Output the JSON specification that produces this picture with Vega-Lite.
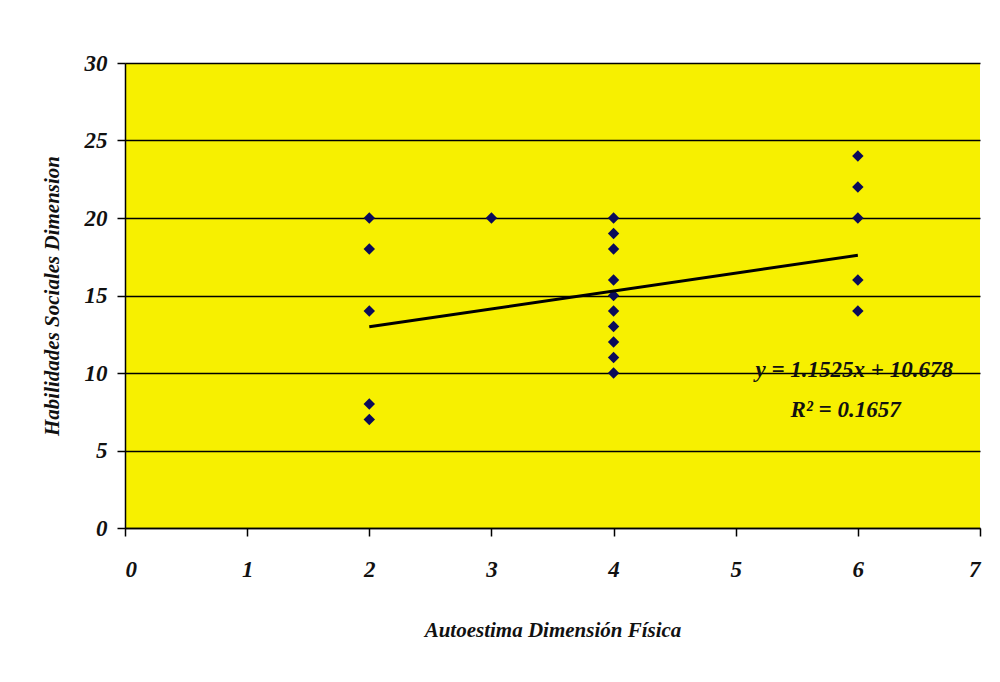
{
  "$schema": "https://vega.github.io/schema/vega-lite/v6.json",
  "autosize": {"type": "none"},
  "width": 855,
  "height": 465,
  "padding": {"left": 125, "top": 63, "right": 20, "bottom": 154},
  "background": "#ffffff",
  "config": {
    "view": {"fill": "#F7F000", "stroke": null},
    "font": "Liberation Serif",
    "axis": {
      "labelFont": "Liberation Serif",
      "titleFont": "Liberation Serif",
      "labelFontWeight": "bold",
      "labelFontStyle": "italic",
      "titleFontWeight": "bold",
      "titleFontStyle": "italic",
      "labelColor": "#111111",
      "titleColor": "#111111",
      "domainColor": "#000000",
      "tickColor": "#000000",
      "labelFontSize": 23,
      "titleFontSize": 21
    }
  },
  "datasets": {
    "points": [
      {"x": 2, "y": 20}, {"x": 2, "y": 18}, {"x": 2, "y": 14}, {"x": 2, "y": 8}, {"x": 2, "y": 7},
      {"x": 3, "y": 20},
      {"x": 4, "y": 20}, {"x": 4, "y": 19}, {"x": 4, "y": 18}, {"x": 4, "y": 16}, {"x": 4, "y": 15},
      {"x": 4, "y": 14}, {"x": 4, "y": 13}, {"x": 4, "y": 12}, {"x": 4, "y": 11}, {"x": 4, "y": 10},
      {"x": 6, "y": 24}, {"x": 6, "y": 22}, {"x": 6, "y": 20}, {"x": 6, "y": 16}, {"x": 6, "y": 14}
    ],
    "trend": [
      {"x": 2, "y": 12.983},
      {"x": 6, "y": 17.593}
    ],
    "labels": [
      {"x": 5.97, "y": 10.2, "text": "y = 1.1525x + 10.678"},
      {"x": 5.9, "y": 7.6, "text": "R² = 0.1657"}
    ]
  },
  "layer": [
    {
      "data": {"name": "points"},
      "mark": {"type": "point", "shape": "diamond", "filled": true, "color": "#0A0A5A", "size": 130, "opacity": 1},
      "encoding": {
        "x": {
          "field": "x", "type": "quantitative",
          "scale": {"domain": [0, 7], "nice": false},
          "axis": {
            "title": "Autoestima Dimensión Física",
            "values": [0, 1, 2, 3, 4, 5, 6, 7],
            "format": "d",
            "grid": false,
            "tickSize": 8,
            "labelPadding": 22,
            "titlePadding": 38,
            "domainWidth": 1.5,
            "tickWidth": 1.5
          }
        },
        "y": {
          "field": "y", "type": "quantitative",
          "scale": {"domain": [0, 30], "nice": false},
          "axis": {
            "title": "Habilidades Sociales Dimension",
            "values": [0, 5, 10, 15, 20, 25, 30],
            "grid": true,
            "gridColor": "#000000",
            "gridWidth": 1.6,
            "gridOpacity": 1,
            "tickSize": 8,
            "labelPadding": 10,
            "titlePadding": 22,
            "domainWidth": 1.5,
            "tickWidth": 1.5
          }
        }
      }
    },
    {
      "data": {"name": "trend"},
      "mark": {"type": "line", "color": "#000000", "strokeWidth": 3},
      "encoding": {
        "x": {"field": "x", "type": "quantitative"},
        "y": {"field": "y", "type": "quantitative"}
      }
    },
    {
      "data": {"name": "labels"},
      "mark": {"type": "text", "font": "Liberation Serif", "fontWeight": "bold", "fontStyle": "italic", "fontSize": 23, "color": "#111111", "align": "center", "baseline": "middle"},
      "encoding": {
        "x": {"field": "x", "type": "quantitative"},
        "y": {"field": "y", "type": "quantitative"},
        "text": {"field": "text"}
      }
    }
  ]
}
